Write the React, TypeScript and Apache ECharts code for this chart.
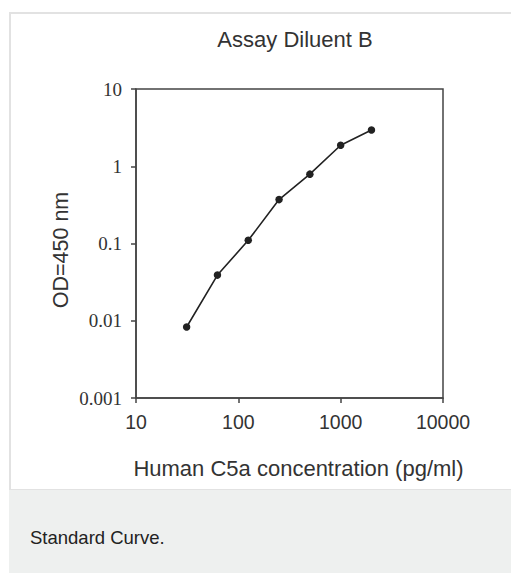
import React, { useEffect, useRef } from "react";
import * as echarts from "echarts";

const concentrations = [31.25, 62.5, 125, 250, 500, 1000, 2000];
const odValues = [0.0083, 0.039, 0.11, 0.37, 0.79, 1.87, 2.94];
const xTicks = [10, 100, 1000, 10000];
const yTicks = [0.001, 0.01, 0.1, 1, 10];

const fmt = (v: number) => String(Number(Number(v).toPrecision(3)));

export default function App() {
  const ref = useRef<HTMLDivElement>(null);
  useEffect(() => {
    document.body.style.margin = "0";
    const chart = echarts.init(ref.current!, null, { renderer: "svg" });
    const sans = "'Liberation Sans', Arial, sans-serif";
    const serif = "'Liberation Serif', 'Times New Roman', serif";
    chart.setOption({
      animation: false,
      backgroundColor: "#ffffff",
      graphic: [
        {
          type: "rect",
          shape: { x: 10, y: 13, width: 510, height: 477 },
          style: { fill: "#ffffff", stroke: "#e2e2e2", lineWidth: 2 },
          z: -10,
        },
        {
          type: "rect",
          shape: { x: 9, y: 490, width: 502, height: 83 },
          style: { fill: "#eef0ef" },
          z: -9,
        },
        {
          type: "text",
          x: 30,
          y: 537,
          style: {
            text: "Standard Curve.",
            font: `18.5px ${sans}`,
            fill: "#222",
            verticalAlign: "middle",
          },
        },
        {
          type: "text",
          x: 61,
          y: 250,
          rotation: Math.PI / 2,
          style: {
            text: "OD=450 nm",
            font: `21.5px ${sans}`,
            fill: "#333",
            align: "center",
            verticalAlign: "middle",
          },
        },
      ],
      title: {
        text: "Assay Diluent B",
        left: 290,
        top: 23,
        textAlign: "center",
        textStyle: { fontFamily: sans, fontSize: 22, fontWeight: "normal", color: "#333" },
      },
      grid: {
        left: 136,
        top: 89,
        right: 68,
        bottom: 175,
        show: true,
        borderColor: "#444",
        borderWidth: 1.5,
        backgroundColor: "transparent",
      },
      xAxis: {
        type: "log",
        logBase: 10,
        min: xTicks[0],
        max: xTicks[xTicks.length - 1],
        name: "Human C5a concentration (pg/ml)",
        nameLocation: "middle",
        nameGap: 59,
        nameTextStyle: { fontFamily: sans, fontSize: 22, color: "#333", padding: [0, 0, 0, 18] },
        axisLine: { show: true, lineStyle: { color: "#444", width: 1.5 } },
        axisTick: { show: true, inside: false, length: 5, lineStyle: { color: "#444", width: 1.5 } },
        minorTick: { show: false },
        splitLine: { show: false },
        axisLabel: {
          margin: 14,
          fontFamily: sans,
          fontSize: 19.5,
          color: "#333",
          formatter: (v: number) => fmt(v),
        },
      },
      yAxis: {
        type: "log",
        logBase: 10,
        min: yTicks[0],
        max: yTicks[yTicks.length - 1],
        axisLine: { show: true, lineStyle: { color: "#444", width: 1.5 } },
        axisTick: { show: true, inside: false, length: 5, lineStyle: { color: "#444", width: 1.5 } },
        minorTick: { show: false },
        splitLine: { show: false },
        axisLabel: {
          margin: 14,
          fontFamily: serif,
          fontSize: 19,
          color: "#333",
          formatter: (v: number) => fmt(v),
        },
      },
      series: [
        {
          type: "line",
          data: concentrations.map((c, i) => [c, odValues[i]]),
          symbol: "circle",
          symbolSize: 7.5,
          itemStyle: { color: "#222" },
          lineStyle: { color: "#222", width: 1.6 },
        },
      ],
    });
    return () => chart.dispose();
  }, []);
  return <div ref={ref} style={{ width: 511, height: 573 }} />;
}
